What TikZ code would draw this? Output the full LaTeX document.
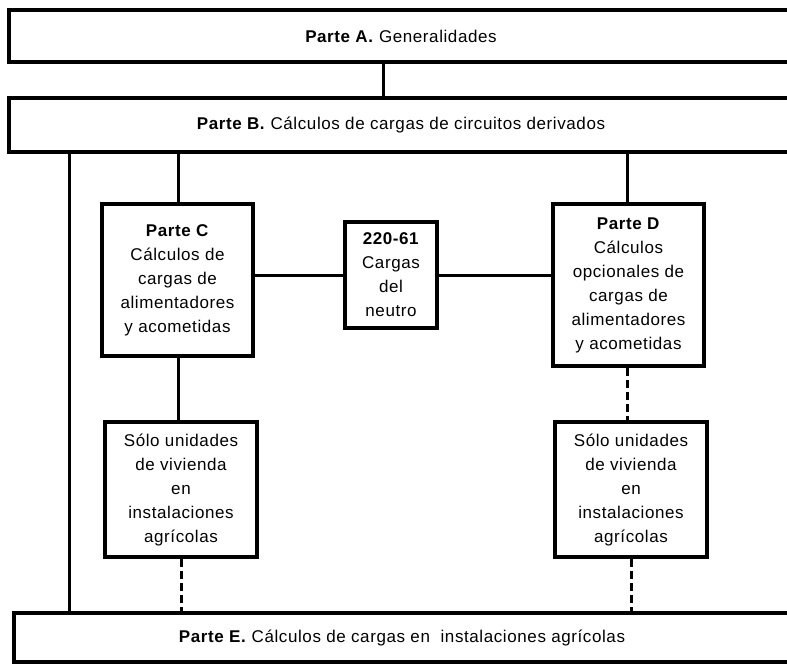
\documentclass[tikz,border=0pt]{standalone}
\usepackage{fontspec}
\setmainfont{Liberation Sans}[LetterSpace=3.5]
\begin{document}
\begin{tikzpicture}[x=1pt,y=-1pt,
  box/.style={draw, line width=3.5pt, rectangle, inner sep=0pt, align=center,
    font=\fontsize{17}{24}\selectfont},
  wire/.style={line width=3pt},
  dwire/.style={line width=3pt, dash pattern=on 8pt off 4pt}]
\useasboundingbox (0,0) rectangle (787,665);
\clip (0,0) rectangle (787,665);
\node[box, minimum width=784pt, minimum height=52pt] (A) at (401,36) {\textbf{Parte A.} Generalidades};
\node[box, minimum width=784pt, minimum height=54pt] (B) at (401,125) {\textbf{Parte B.} Cálculos de cargas de circuitos derivados};
\node[box, minimum width=776pt, minimum height=49pt] (E) at (402,637.5) {\textbf{Parte E.} Cálculos de cargas en\ \ instalaciones agrícolas};
\node[box, line width=4pt, minimum width=151pt, minimum height=152pt] (C) at (177.5,280)
  {\textbf{Parte C}\\Cálculos de\\cargas de\\alimentadores\\y acometidas};
\node[box, line width=4pt, minimum width=92pt, minimum height=106pt] (N) at (391,275)
  {\textbf{220-61}\\Cargas\\del\\neutro};
\node[box, line width=4pt, minimum width=151pt, minimum height=162pt] (D) at (628.5,285)
  {\textbf{Parte D}\\Cálculos\\opcionales de\\cargas de\\alimentadores\\y acometidas};
\node[box, line width=4pt, minimum width=152pt, minimum height=135pt] (C2) at (181,489.5)
  {Sólo unidades\\de vivienda\\en\\instalaciones\\agrícolas};
\node[box, line width=4pt, minimum width=152pt, minimum height=135pt] (D2) at (631,489.5)
  {Sólo unidades\\de vivienda\\en\\instalaciones\\agrícolas};
\coordinate (ab) at (383,0);
\coordinate (lx) at (69,0);
\coordinate (cx) at (178,0);
\coordinate (dx) at (627,0);
\draw[wire] (A.south -| ab) -- (B.north -| ab);
\draw[wire] (B.south -| lx) -- (E.north -| lx);
\draw[wire] (B.south -| cx) -- (C.north -| cx);
\draw[wire] (B.south -| dx) -- (D.north -| dx);
\draw[wire] (N.west -| C.east) -- (N.west);
\draw[wire] (N.east) -- (N.east -| D.west);
\draw[wire] (C.south -| cx) -- (C2.north -| cx);
\draw[dwire] (D.south -| dx) -- (D2.north -| dx);
\draw[dwire] (C2.south) -- (C2.south |- E.north);
\draw[dwire] (D2.south) -- (D2.south |- E.north);
\end{tikzpicture}
\end{document}
